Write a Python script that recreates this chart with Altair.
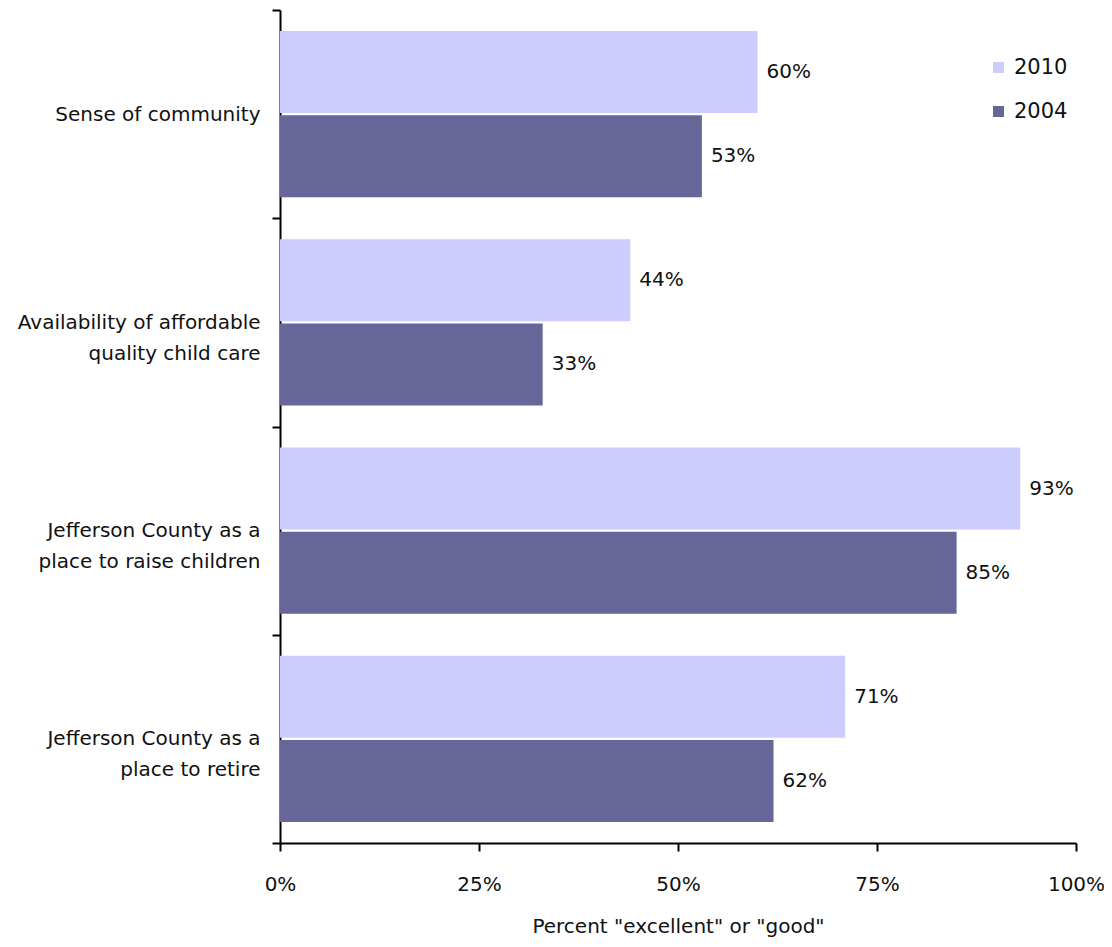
import altair as alt
import pandas as pd

cat_lines = [
    ["Sense of community"],
    ["Availability of affordable", "quality child care"],
    ["Jefferson County as a", "place to raise children"],
    ["Jefferson County as a", "place to retire"],
]
categories = ["\n".join(c) for c in cat_lines]
years = ["2010", "2004"]
values_2010 = [60, 44, 93, 71]
values_2004 = [53, 33, 85, 62]
colors = ["#CCCCFF", "#666699"]

rows = []
for c, v10, v04 in zip(categories, values_2010, values_2004):
    rows.append({"category": c, "year": "2010", "value": v10, "label": f"{v10}%"})
    rows.append({"category": c, "year": "2004", "value": v04, "label": f"{v04}%"})
df = pd.DataFrame(rows)

FONT = "DejaVu Sans"
TXT = "#111111"

y_enc = alt.Y(
    "category:N",
    sort=categories,
    scale=alt.Scale(paddingInner=0, paddingOuter=0),
    axis=alt.Axis(
        title=None,
        tickBand="extent",
        labelExpr="datum.value ? split(datum.value, '\\n') : ''",
        labelFontSize=20,
        labelLineHeight=31,
        labelFont=FONT,
        labelColor=TXT,
        labelPadding=12,
        tickSize=8,
        tickColor="#000000",
        domainColor="#000000",
        tickWidth=2,
        domainWidth=2,
        labelLimit=400,
    ),
)
yoff = alt.YOffset("year:N", sort=years, scale=alt.Scale(paddingInner=0.024, paddingOuter=0.25))
x_enc = alt.X(
    "value:Q",
    scale=alt.Scale(domain=[0, 100], nice=False),
    axis=alt.Axis(
        values=[0, 25, 50, 75, 100],
        labelExpr="datum.value + '%'",
        title='Percent "excellent" or "good"',
        titleFont=FONT,
        titleFontSize=20,
        titleFontWeight="normal",
        titleColor=TXT,
        titlePadding=22,
        labelFont=FONT,
        labelFontSize=20,
        labelColor=TXT,
        labelPadding=23,
        tickSize=8,
        tickWidth=2,
        domainWidth=2,
        tickColor="#000000",
        domainColor="#000000",
        grid=False,
        labelFlush=False,
    ),
)

bars = alt.Chart(df).mark_bar().encode(
    y=y_enc,
    yOffset=yoff,
    x=x_enc,
    color=alt.Color(
        "year:N",
        sort=years,
        scale=alt.Scale(domain=years, range=colors),
        legend=alt.Legend(
            title=None,
            orient="none",
            legendX=708,
            legendY=47,
            symbolType="square",
            symbolSize=121,
            symbolStrokeWidth=0,
            labelFont=FONT,
            labelFontSize=21,
            labelColor=TXT,
            rowPadding=22,
            labelOffset=5,
            padding=0,
        ),
    ),
)

text = alt.Chart(df).mark_text(
    align="left", baseline="middle", dx=9, fontSize=20, font=FONT, color=TXT
).encode(
    y=alt.Y("category:N", sort=categories),
    yOffset=alt.YOffset("year:N", sort=years),
    x="value:Q",
    text="label:N",
)

chart = (
    (bars + text)
    .properties(
        width=796,
        height=833,
        padding={"left": 272, "top": 2, "right": 28, "bottom": 94},
        autosize=alt.AutoSizeParams(type="none"),
        background="white",
    )
    .configure_view(strokeWidth=0, stroke="transparent")
)

chart.save("out.html", embed_options={"renderer": "svg", "actions": False})
